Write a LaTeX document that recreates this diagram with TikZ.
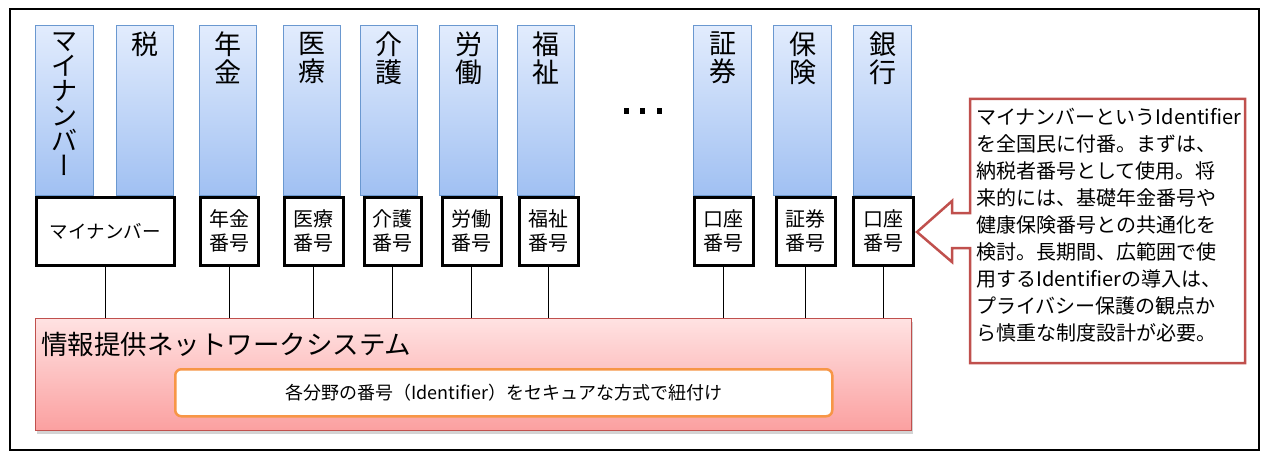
\documentclass[tikz,border=0pt]{standalone}
\usepackage{fontspec}
\setmainfont{Noto Sans CJK JP}
\usetikzlibrary{shadows}
\definecolor{colborder}{HTML}{6A98D0}
\definecolor{coltop}{HTML}{E2ECFD}
\definecolor{colbot}{HTML}{A0C0F2}
\definecolor{netred}{HTML}{C0504D}
\definecolor{nettop}{HTML}{FFE2E2}
\definecolor{netbot}{HTML}{FBA0A0}
\definecolor{innerorange}{HTML}{F79646}
\definecolor{callred}{HTML}{C0504D}
\tikzset{
 colbox/.style={draw=colborder, line width=1pt, top color=coltop, bottom color=colbot, anchor=north west, inner sep=0pt, minimum height=170pt},
 idbox/.style={draw=black, line width=2.5pt, fill=white, anchor=north west, inner sep=0pt, minimum height=68pt, align=center, font=\fontsize{20}{24}\selectfont},
 collabel/.style={anchor=north, inner sep=0pt, align=center, font=\fontsize{27}{28}\selectfont},
 link/.style={draw=black, line width=0.8pt},
 dotsq/.style={fill=black, inner sep=0pt, minimum size=5pt},
}
\begin{document}
\begin{tikzpicture}[x=1pt,y=1pt]
\useasboundingbox (0,0) rectangle (1262,-452);
\draw[line width=2.5pt] (10,-9) rectangle (1259,-450);

% columns
\node[colbox, minimum width=58pt] (c1) at (35,-25) {};
\node[colbox, minimum width=57pt] (c2) at (116,-25) {};
\node[colbox, minimum width=57pt] (c3) at (199,-25) {};
\node[colbox, minimum width=57pt] (c4) at (283,-25) {};
\node[colbox, minimum width=57pt] (c5) at (360,-25) {};
\node[colbox, minimum width=58pt] (c6) at (439,-25) {};
\node[colbox, minimum width=57pt] (c7) at (517,-25) {};
\node[colbox, minimum width=58pt] (c8) at (693,-25) {};
\node[colbox, minimum width=58pt] (c9) at (773,-25) {};
\node[colbox, minimum width=58pt] (c10) at (853,-25) {};

\node[collabel, font=\fontsize{26}{25}\selectfont] (l1) at ([yshift=-7pt]c1.north) {マ\\イ\\ナ\\ン\\バ\\{\addfontfeatures{RawFeature=+vert}ー}};
\node[collabel] (l2) at ([yshift=-7pt]c2.north) {税};
\node[collabel] (l3) at ([yshift=-7pt]c3.north) {年\\金};
\node[collabel] (l4) at ([yshift=-7pt]c4.north) {医\\療};
\node[collabel] (l5) at ([yshift=-7pt]c5.north) {介\\護};
\node[collabel] (l6) at ([yshift=-7pt]c6.north) {労\\働};
\node[collabel] (l7) at ([yshift=-7pt]c7.north) {福\\祉};
\node[collabel] (l8) at ([yshift=-7pt]c8.north) {証\\券};
\node[collabel] (l9) at ([yshift=-7pt]c9.north) {保\\険};
\node[collabel] (l10) at ([yshift=-7pt]c10.north) {銀\\行};

% dots
\node[dotsq] (d1) at (626,-111) {};
\node[dotsq] (d2) at (642,-111) {};
\node[dotsq] (d3) at (659,-111) {};

% id boxes
\node[idbox, minimum width=138pt, font=\fontsize{18.5}{22}\selectfont] (b1) at (35,-196) {マイナンバー};
\node[idbox, minimum width=58pt] (b3) at (199,-196) {年金\\番号};
\node[idbox, minimum width=59pt] (b4) at (283,-196) {医療\\番号};
\node[idbox, minimum width=57pt] (b5) at (363,-196) {介護\\番号};
\node[idbox, minimum width=59pt] (b6) at (441,-196) {労働\\番号};
\node[idbox, minimum width=59pt] (b7) at (518,-196) {福祉\\番号};
\node[idbox, minimum width=59pt] (b8) at (693,-196) {口座\\番号};
\node[idbox, minimum width=59pt] (b9) at (775,-196) {証券\\番号};
\node[idbox, minimum width=60pt] (b10) at (852,-196) {口座\\番号};

% network system
\node[draw=netred, line width=1pt, top color=nettop, bottom color=netbot, anchor=north west, inner sep=0pt,
      minimum width=876pt, minimum height=112pt,
      drop shadow={shadow xshift=1pt, shadow yshift=-3pt, opacity=0.35}] (net) at (35,-318) {};
\node[anchor=west, inner sep=0pt, font=\fontsize{26.5}{28}\selectfont] (nettitle) at (41,-344) {情報提供ネットワークシステム};
\node[draw=innerorange, line width=2.5pt, fill=white, rounded corners=6pt, anchor=north west, inner sep=0pt,
      minimum width=657pt, minimum height=47pt, font=\fontsize{18}{20}\selectfont] (inner) at (174,-368) {各分野の番号（Identifier）をセキュアな方式で紐付け};

% links
\foreach \b in {b1,b3,b4,b5,b6,b7,b8,b9,b10}{
  \draw[link] (\b.south) -- (\b.south |- net.north);
}

% callout
\draw[draw=callred, fill=white, line width=2.5pt, line join=miter]
  (970,-99) -- (1245,-99) -- (1245,-363) -- (970,-363) -- (970,-248) -- (952,-248) -- (952,-262)
  -- (917,-232) -- (952,-201) -- (952,-213) -- (970,-213) -- cycle;
\node[anchor=north west, inner sep=0pt, align=left, font=\fontsize{20}{27}\selectfont] (note) at (976,-108)
 {マイナンバーというIdentifier\\を全国民に付番。まずは、\\納税者番号として使用。将\\来的には、基礎年金番号や\\健康保険番号との共通化を\\検討。長期間、広範囲で使\\用するIdentifierの導入は、\\プライバシー保護の観点か\\ら慎重な制度設計が必要。};
\end{tikzpicture}
\end{document}
